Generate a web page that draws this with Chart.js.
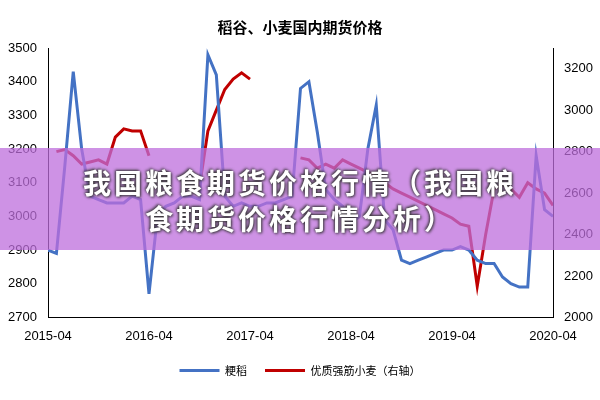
<!DOCTYPE html>
<html>
<head>
<meta charset="utf-8">
<script src="https://cdn.jsdelivr.net/npm/chart.js@4"></script>
<style>
  body { margin: 0; background: #fff; }
  #wrap { position: relative; width: 600px; height: 400px; }
  #banner {
    position: absolute; left: 0; top: 148px; width: 600px; height: 102px;
    background: rgba(190, 110, 220, 0.75);
    color: #fff; font-family: "Noto Sans CJK SC"; font-weight: bold; font-size: 28px;
    letter-spacing: 3px; text-align: center; line-height: 36px; padding-top: 16px; box-sizing: border-box;
    text-shadow: 1px 1px 3px #333, -1px -1px 3px #333;
  }
</style>
</head>
<body>
<div id="wrap">
  <canvas id="c" width="600" height="400"></canvas>
  <div id="banner">我国粮食期货价格行情（我国粮<br>食期货价格行情分析）</div>
</div>
<script>
// months since 2015-04
const xLabels = ["2015-04", "2016-04", "2017-04", "2018-04", "2019-04", "2020-04"];
const rice = [2900, 2890, 3150, 3430, 3200, 3060, 3050, 3040, 3040, 3040, 3060, 3050,
  2770, 3000, 3030, 3040, 3060, 3060, 3050, 3480, 3420, 3060, 3030, 3040,
  3030, 3030, 3040, 3040, 3050, 3060, 3380, 3400, 3250, 3080, 3050, 3030,
  2980, 3000, 3200, 3330, 2990, 2960, 2870, 2860, 2870, 2880, 2890, 2900,
  2900, 2910, 2900, 2870, 2860, 2860, 2820, 2800, 2790, 2790, 3180, 3020, 3000];
const wheat = [null, 2800, 2810, 2780, 2740, 2750, 2760, 2740, 2870, 2910, 2900, 2900,
  2780, null, null, null, null, null, 2630, 2900, 3000, 3100, 3150, 3180,
  3150, null, null, null, null, null, 2770, 2760, 2720, 2740, 2720, 2760,
  2740, 2720, 2700, 2680, 2650, 2620, 2600, 2580, 2560, 2540, 2520, 2500,
  2480, 2450, 2440, 2150, 2400, 2620, 2640, 2620, 2580, 2650, 2620, 2600, 2540];

const pts = (arr) => arr.map((v, i) => ({ x: i, y: v }));
const font = { family: "Liberation Sans", size: 13 };

new Chart(document.getElementById("c"), {
  type: "line",
  data: {
    datasets: [
      { label: "粳稻", data: pts(rice), yAxisID: "y", borderColor: "#4472c4",
        backgroundColor: "#4472c4", borderWidth: 3, pointRadius: 0, tension: 0 },
      { label: "优质强筋小麦（右轴）", data: pts(wheat), yAxisID: "y1", borderColor: "#c00000",
        backgroundColor: "#c00000", borderWidth: 3, pointRadius: 0, tension: 0, spanGaps: false },
    ],
  },
  options: {
    responsive: false,
    animation: false,
    layout: { padding: { bottom: 14 } },
    plugins: {
      title: { display: true, text: "稻谷、小麦国内期货价格", color: "#000",
        font: { family: "Noto Sans CJK SC", size: 15, weight: "bold" }, padding: { top: 18, bottom: 12 } },
      legend: { position: "bottom", labels: { boxWidth: 40, boxHeight: 0, color: "#000",
        font: { family: "Noto Sans CJK SC", size: 11 }, padding: 18 } },
      tooltip: { enabled: false },
    },
    scales: {
      x: { type: "linear", min: 0, max: 60,
        grid: { display: false }, border: { color: "#000" },
        ticks: { stepSize: 12, color: "#000", font, maxRotation: 0,
          callback: (v) => xLabels[v / 12] } },
      y: { min: 2700, max: 3500, grid: { display: false }, border: { color: "#000" },
        ticks: { stepSize: 100, color: "#000", font, callback: (v) => String(v) },
        afterFit: (s) => { s.width = 48; } },
      y1: { position: "right", min: 2000, max: 3300, grid: { display: false }, border: { color: "#000" },
        ticks: { stepSize: 200, color: "#000", font, callback: (v) => (v % 200 === 0 ? String(v) : "") },
        afterFit: (s) => { s.width = 47; } },
    },
  },
});
</script>
</body>
</html>
